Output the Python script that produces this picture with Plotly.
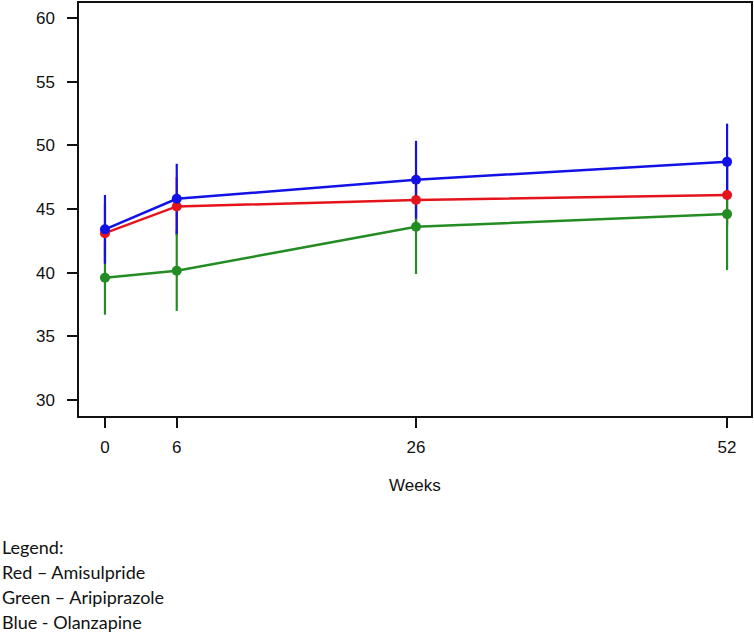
import plotly.graph_objects as go

weeks = [0, 6, 26, 52]

amisulpride_mean = [43.1, 45.2, 45.7, 46.1]
amisulpride_err = [2.3, 2.3, 2.3, 2.4]

aripiprazole_mean = [39.6, 40.15, 43.6, 44.6]
aripiprazole_err = [2.9, 3.15, 3.7, 4.4]

olanzapine_mean = [43.4, 45.8, 47.3, 48.7]
olanzapine_err = [2.7, 2.75, 3.05, 3.0]

y_ticks = [30, 35, 40, 45, 50, 55, 60]
legend_lines = ["Legend:", "Red \u2013 Amisulpride", "Green \u2013 Aripiprazole", "Blue - Olanzapine"]

RED = "#e5141c"
GREEN = "#248c24"
BLUE = "#1212e6"

series = [
    ("Amisulpride", amisulpride_mean, amisulpride_err, RED),
    ("Aripiprazole", aripiprazole_mean, aripiprazole_err, GREEN),
    ("Olanzapine", olanzapine_mean, olanzapine_err, BLUE),
]

fig = go.Figure()

# error bars first (drawn beneath lines and points)
for name, m, e, c in series:
    fig.add_trace(go.Scatter(
        x=weeks, y=m, mode="markers",
        marker=dict(size=0.1, color=c, opacity=0),
        error_y=dict(type="data", array=e, visible=True, color=c, thickness=2.2, width=0),
        showlegend=False, hoverinfo="skip",
    ))

for name, m, e, c in series:
    fig.add_trace(go.Scatter(
        x=weeks, y=m, mode="lines+markers", name=name,
        line=dict(color=c, width=2.5),
        marker=dict(color=c, size=10),
        showlegend=False,
    ))

plot_top, plot_bottom = 1, 416
plot_h = plot_bottom - plot_top

def py(p):
    return (plot_bottom - p) / plot_h

plot_left, plot_right = 79, 753
plot_w = plot_right - plot_left

def px(p):
    return (p - plot_left) / plot_w

tick_font = dict(family="Liberation Sans, Arial, sans-serif", size=17, color="#111111")

fig.update_layout(
    width=754, height=632,
    margin=dict(l=plot_left, r=754 - plot_right, t=plot_top, b=632 - plot_bottom),
    plot_bgcolor="white", paper_bgcolor="white",
    xaxis=dict(
        range=[-2.17, 54.0], tickmode="array", tickvals=weeks, ticktext=[str(w) for w in weeks],
        ticks="outside", ticklen=10, tickwidth=1.5, tickcolor="#111111",
        showline=True, linecolor="#111111", linewidth=1.5, mirror=True,
        showgrid=False, zeroline=False, tickfont=tick_font, ticklabelstandoff=5,
    ),
    yaxis=dict(
        range=[28.75, 61.17], tickmode="array", tickvals=y_ticks,
        ticks="outside", ticklen=10, tickwidth=1.5, tickcolor="#111111",
        showline=True, linecolor="#111111", linewidth=1.5, mirror=True,
        showgrid=False, zeroline=False, tickfont=tick_font, ticklabelstandoff=9,
    ),
    font=tick_font,
)

fig.add_annotation(
    text="Weeks", xref="paper", yref="paper", x=0.5, y=py(486),
    xanchor="center", yanchor="middle", showarrow=False, font=tick_font,
)

legend_centers = [548, 573, 598, 623]
for txt, yc in zip(legend_lines, legend_centers):
    fig.add_annotation(
        text=txt, xref="paper", yref="paper", x=px(0), y=py(yc),
        xanchor="left", yanchor="middle", showarrow=False,
        font=dict(family="Lato, Carlito, sans-serif", size=18, color="#111111"),
    )

fig.write_html("out.html", config={"displayModeBar": False},
               post_script="document.body.style.margin='0';")
